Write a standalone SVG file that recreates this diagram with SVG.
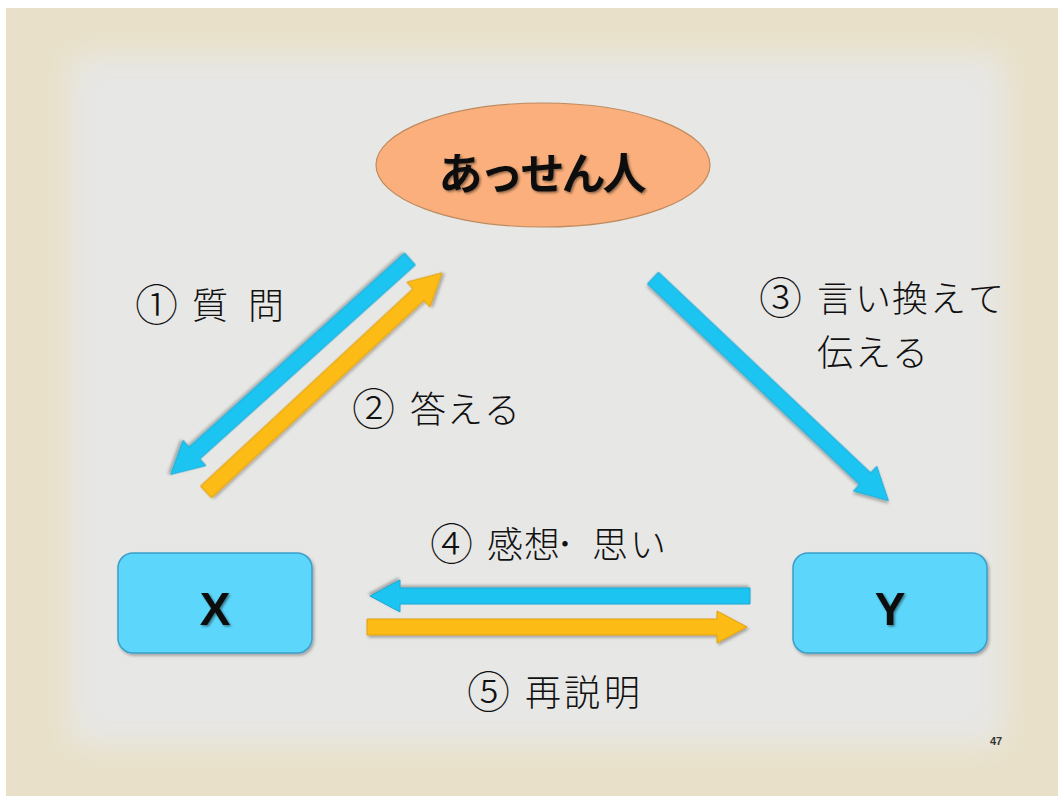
<svg xmlns="http://www.w3.org/2000/svg" width="1058" height="796" viewBox="0 0 1058 796">
<defs>
<filter id="blur" x="-10%" y="-10%" width="120%" height="120%"><feGaussianBlur stdDeviation="16"/></filter>
<filter id="shadow" x="-20%" y="-20%" width="140%" height="140%"><feDropShadow dx="1.5" dy="2" stdDeviation="1.5" flood-color="#000" flood-opacity="0.3"/></filter>
<filter id="tshadow" x="-10%" y="-10%" width="120%" height="130%"><feDropShadow dx="1.5" dy="1.5" stdDeviation="1" flood-color="#000" flood-opacity="0.45"/></filter>
<style>
.lbl{font-family:"MS PGothic","Noto Sans CJK JP","Noto Sans",sans-serif;font-size:36px;font-weight:300;fill:#111;}
.num{font-size:43px;}
.blue{fill:#1ec5f1;stroke:#17a9d6;stroke-width:1;filter:url(#shadow);}
.yel{fill:#fdbb12;stroke:#e0a010;stroke-width:1;filter:url(#shadow);}
.box{fill:#5bd7fb;stroke:#3a9fca;stroke-width:1.5;filter:url(#shadow);}
.big{font-family:"Liberation Sans",Arial,sans-serif;font-weight:bold;font-size:46px;fill:#111;text-anchor:middle;filter:url(#tshadow);}
</style>
</defs>
<rect x="0" y="0" width="1058" height="796" fill="#ffffff"/>
<rect x="6" y="8" width="1052" height="788" fill="#e8e0c8"/>
<rect x="70" y="55" width="935" height="690" fill="#e7e7e6" filter="url(#blur)"/>

<g id="connectors">
<polygon class="blue" transform="translate(410,259) rotate(138)" points="0,-8 290,-8 290,-17 322,0 290,17 290,8 0,8"/>
<polygon class="yel" transform="translate(206,492) rotate(-42.9)" points="0,-8 290,-8 290,-17 322,0 290,17 290,8 0,8"/>
<polygon class="blue" transform="translate(653,278) rotate(43.4)" points="0,-8 292,-8 292,-17 324,0 292,17 292,8 0,8"/>
<polygon class="blue" transform="translate(750,596) rotate(180)" points="0,-8 350,-8 350,-16 380,0 350,16 350,8 0,8"/>
<polygon class="yel" transform="translate(367,627)" points="0,-8 350,-8 350,-16 380,0 350,16 350,8 0,8"/>
</g>

<g id="mediator">
<ellipse cx="543" cy="165" rx="167" ry="62" fill="#faaf7c" stroke="#c08a5c" stroke-width="1.2"/>
<text x="541" y="190" text-anchor="middle" font-family="MS PGothic,'Noto Sans CJK JP',sans-serif" font-weight="bold" font-size="44" letter-spacing="-3" fill="#111" filter="url(#tshadow)">あっせん人</text>
</g>

<g id="nodeX">
<rect class="box" x="118" y="553" width="194" height="100" rx="15"/>
<text class="big" x="215" y="625">X</text>
</g>

<g id="nodeY">
<rect class="box" x="793" y="553" width="194" height="100" rx="15"/>
<text class="big" x="890" y="625">Y</text>
</g>

<g id="labels">
<text class="lbl" y="319"><tspan class="num" x="135" dy="2">①</tspan><tspan x="175 192 230 248" dy="-2"> 質 問</tspan></text>
<text class="lbl" y="423"><tspan class="num" x="352" dy="2">②</tspan><tspan x="391 410 447 484" dy="-2"> 答える</tspan></text>
<text class="lbl" y="312"><tspan class="num" x="759" dy="2">③</tspan><tspan x="800 817 855 892 930 968" dy="-2"> 言い換えて</tspan></text>
<text class="lbl" x="817 855 892" y="366">伝える</text>
<text class="lbl" y="558"><tspan class="num" x="430" dy="2">④</tspan><tspan x="470 487 524 556 592 630" dy="-2"> 感想･思い</tspan></text>
<text class="lbl" y="706"><tspan class="num" x="467" dy="2">⑤</tspan><tspan x="507 525 564 604" dy="-2"> 再説明</tspan></text>
<text x="990" y="745" font-family="'Liberation Sans',Arial,sans-serif" font-weight="bold" font-size="11" fill="#333">47</text>
</g>
</svg>
